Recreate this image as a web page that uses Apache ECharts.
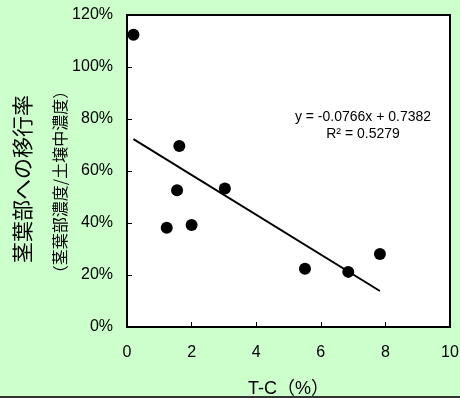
<!DOCTYPE html>
<html>
<head>
<meta charset="utf-8">
<script src="https://cdn.jsdelivr.net/npm/echarts@6/dist/echarts.min.js"></script>
<style>
html,body{margin:0;padding:0;background:#ccffcc;}
#chart{width:460px;height:398px;}
</style>
</head>
<body>
<div id="chart"></div>
<script>
// T-C (%)
var tcValues = [0.2, 1.23, 1.55, 1.62, 2.0, 3.03, 5.51, 6.85, 7.83];
// 茎葉部への移行率 (%)
var transferRates = [112.4, 38.2, 52.6, 69.6, 39.2, 53.3, 22.4, 21.2, 28.1];
// regression y = -0.0766x + 0.7382 (ratio)
var slope = -0.0766;
var intercept = 0.7382;
var r2 = 0.5279;
var yTickValues = [0, 20, 40, 60, 80, 100, 120];
var xTickValues = [0, 2, 4, 6, 8, 10];

var points = tcValues.map(function (x, i) { return [x, transferRates[i]]; });
var xMin = Math.min.apply(null, tcValues);
var xMax = Math.max.apply(null, tcValues);
var trend = [[xMin, (slope * xMin + intercept) * 100], [xMax, (slope * xMax + intercept) * 100]];

var latin = '"Liberation Sans", Arial, "Noto Sans CJK JP", sans-serif';
var cjk = '"Noto Sans CJK JP", "Liberation Sans", sans-serif';

var chart = echarts.init(document.getElementById('chart'), null, {renderer: 'canvas'});
chart.setOption({
  backgroundColor: '#ccffcc',
  animation: false,
  grid: {
    left: 127, right: 10, top: 15, bottom: 71,
    containLabel: false, outerBoundsMode: 'none',
    show: true, backgroundColor: '#ffffff', borderColor: '#000000', borderWidth: 2
  },
  xAxis: {
    type: 'value', min: xTickValues[0], max: xTickValues[xTickValues.length - 1], interval: 2,
    name: 'T-C（%）', nameLocation: 'middle', nameGap: 53,
    nameTextStyle: {fontFamily: latin, fontSize: 18, color: '#000'},
    axisLine: {show: true, lineStyle: {color: '#000', width: 2}},
    axisTick: {show: true, inside: true, length: 5, lineStyle: {color: '#000', width: 1}},
    axisLabel: {fontFamily: latin, fontSize: 16, color: '#000', margin: 18},
    splitLine: {show: false}
  },
  yAxis: {
    type: 'value', min: yTickValues[0], max: yTickValues[yTickValues.length - 1], interval: 20,
    axisLine: {show: true, lineStyle: {color: '#000', width: 2}},
    axisTick: {show: true, inside: true, length: 5, lineStyle: {color: '#000', width: 1}},
    axisLabel: {fontFamily: latin, fontSize: 16, color: '#000', margin: 14, formatter: function (v) { return v + '%'; }},
    splitLine: {show: false}
  },
  series: [
    {
      type: 'line', data: trend, symbol: 'none', silent: true,
      lineStyle: {color: '#000', width: 2}, z: 2
    },
    {
      type: 'scatter', data: points, symbol: 'circle', symbolSize: 12,
      itemStyle: {color: '#000', opacity: 1}, z: 3
    }
  ],
  graphic: [
    {
      type: 'text', x: 22, y: 179, rotation: Math.PI / 2,
      style: {text: '茎葉部への移行率', font: '21px ' + cjk, fill: '#000', textAlign: 'center', textVerticalAlign: 'middle'}
    },
    {
      type: 'text', x: 60, y: 182, rotation: Math.PI / 2,
      style: {text: '（茎葉部濃度/土壌中濃度）', font: '16px ' + cjk, fill: '#000', textAlign: 'center', textVerticalAlign: 'middle'}
    },
    {
      type: 'text', x: 363, y: 117,
      style: {text: 'y = ' + slope + 'x + ' + intercept, font: '14px ' + latin, fill: '#000', textAlign: 'center', textVerticalAlign: 'middle'}
    },
    {
      type: 'text', x: 363, y: 134,
      style: {text: 'R² = ' + r2, font: '14px ' + latin, fill: '#000', textAlign: 'center', textVerticalAlign: 'middle'}
    },
    {
      type: 'rect', shape: {x: 0, y: 396, width: 460, height: 2}, style: {fill: '#333333'}
    }
  ]
});
</script>
</body>
</html>
